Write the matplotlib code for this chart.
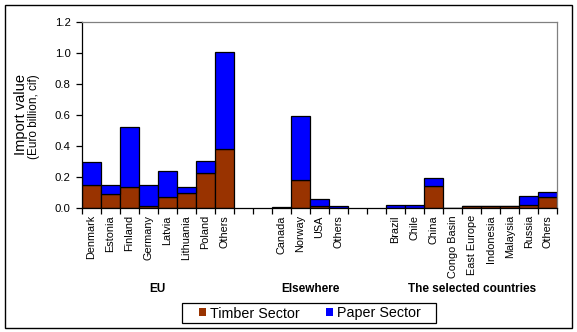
#!/usr/bin/env python3
"""Stacked import value bars: timber vs paper sector by origin country."""

import matplotlib as mpl
mpl.use("Agg")
import matplotlib.pyplot as plt
import numpy as np
from matplotlib.patches import Patch, Rectangle

# --- data (Euro billion, cif) ---
EU_COUNTRIES = ["Denmark", "Estonia", "Finland", "Germany", "Latvia",
                "Lithuania", "Poland", "Others"]
EU_TIMBER = [0.153, 0.089, 0.134, 0.017, 0.070, 0.096, 0.224, 0.383]
EU_PAPER = [0.147, 0.064, 0.386, 0.136, 0.173, 0.038, 0.083, 0.622]

ELSE_COUNTRIES = ["Canada", "Norway", "USA", "Others"]
ELSE_TIMBER = [0.003, 0.179, 0.017, 0.003]
ELSE_PAPER = [0.003, 0.415, 0.046, 0.010]

SEL_COUNTRIES = ["Brazil", "Chile", "China", "Congo Basin", "East Europe",
                 "Indonesia", "Malaysia", "Russia", "Others"]
SEL_TIMBER = [0.004, 0.004, 0.143, 0.0, 0.017, 0.012, 0.012, 0.023, 0.072]
SEL_PAPER = [0.015, 0.015, 0.049, 0.0, 0.001, 0.004, 0.004, 0.054, 0.035]

GROUP_NAMES = ["EU", "Elsewhere", "The selected countries"]
GAP_SLOTS = 2

TIMBER_COLOR = "#993300"
PAPER_COLOR = "#0000FF"

W, H = 577, 332
# plot area in pixels (left, right, top, bottom)
PX_L, PX_R, PX_T, PX_B = 81.7, 557.3, 21.7, 208.3

plt.rcParams["font.family"] = ["Liberation Sans", "DejaVu Sans"]

groups = [
    (EU_COUNTRIES, EU_TIMBER, EU_PAPER),
    (ELSE_COUNTRIES, ELSE_TIMBER, ELSE_PAPER),
    (SEL_COUNTRIES, SEL_TIMBER, SEL_PAPER),
]

positions, labels, timber, paper, group_centers = [], [], [], [], []
slot = 0
for names, t, p in groups:
    start = slot
    for n, tv, pv in zip(names, t, p):
        positions.append(slot)
        labels.append(n)
        timber.append(tv)
        paper.append(pv)
        slot += 1
    group_centers.append((start + slot - 1) / 2)
    slot += GAP_SLOTS
n_slots = slot - GAP_SLOTS

positions = np.array(positions, dtype=float)
timber = np.array(timber)
paper = np.array(paper)

fig = plt.figure(figsize=(W / 100, H / 100), dpi=100)
ax = fig.add_axes([PX_L / W, 1 - PX_B / H, (PX_R - PX_L) / W, (PX_B - PX_T) / H])

bar_kw = dict(width=1.0, edgecolor="black", linewidth=0.9, zorder=2)
ax.bar(positions, timber, color=TIMBER_COLOR, **bar_kw)
ax.bar(positions, paper, bottom=timber, color=PAPER_COLOR, **bar_kw)

ax.set_xlim(-0.5, n_slots - 0.5)
ax.set_ylim(0, 1.2)
yt = np.arange(0, 1.21, 0.2)
ax.set_yticks(yt)
ax.set_yticklabels([f"{v:.1f}" for v in yt])
ax.tick_params(axis="y", direction="out", length=4, width=0.9, pad=4,
               labelsize=8.2)

# boundaries get the tick marks, centres get the labels
ax.set_xticks(np.arange(-0.5, n_slots, 1.0))
ax.set_xticklabels([])
ax.tick_params(axis="x", which="major", direction="out", length=4, width=0.9)
ax.set_xticks(positions, minor=True)
ax.set_xticklabels(labels, minor=True, rotation=90, fontsize=7.8)
ax.tick_params(axis="x", which="minor", length=0, pad=5)

for side in ("left", "bottom"):
    ax.spines[side].set_color("black")
    ax.spines[side].set_linewidth(0.9)
for side in ("top", "right"):
    ax.spines[side].set_color("#808080")
    ax.spines[side].set_linewidth(0.9)

for name, c in zip(GROUP_NAMES, group_centers):
    x_fig = (PX_L + (c + 0.5) * (PX_R - PX_L) / n_slots) / W
    fig.text(x_fig, 1 - 289 / H, name, ha="center", va="center",
             fontsize=8.5, fontweight="bold")

fig.text(21 / W, 1 - 114 / H, "Import value", rotation=90,
         ha="center", va="center", fontsize=10.5)
fig.text(34 / W, 1 - 116.5 / H, "(Euro billion, cif)", rotation=90,
         ha="center", va="center", fontsize=8.5)

handles = [
    Patch(facecolor=TIMBER_COLOR, edgecolor="none", label="Timber Sector"),
    Patch(facecolor=PAPER_COLOR, edgecolor="none", label="Paper Sector"),
]
fig.legend(handles=handles, loc="center", ncol=2,
           bbox_to_anchor=(310 / W, 1 - 313.5 / H),
           fontsize=10.3, frameon=False, borderpad=0,
           handlelength=0.49, handleheight=0.49, handletextpad=0.24,
           columnspacing=1.87, borderaxespad=0)
# legend frame, drawn by hand so the side padding matches
fig.patches.append(Rectangle((181.7 / W, 1 - 323.3 / H), (435.7 - 181.7) / W,
                             (323.3 - 303.3) / H, transform=fig.transFigure,
                             fill=False, edgecolor="black", linewidth=0.9))

# outer chart border
fig.patches.append(Rectangle((4.5 / W, 1 - 328 / H), (572 - 4.5) / W,
                             (328 - 4.5) / H, transform=fig.transFigure,
                             fill=False, edgecolor="black", linewidth=1.0))

fig.savefig("out.png", dpi=100, facecolor="white")
